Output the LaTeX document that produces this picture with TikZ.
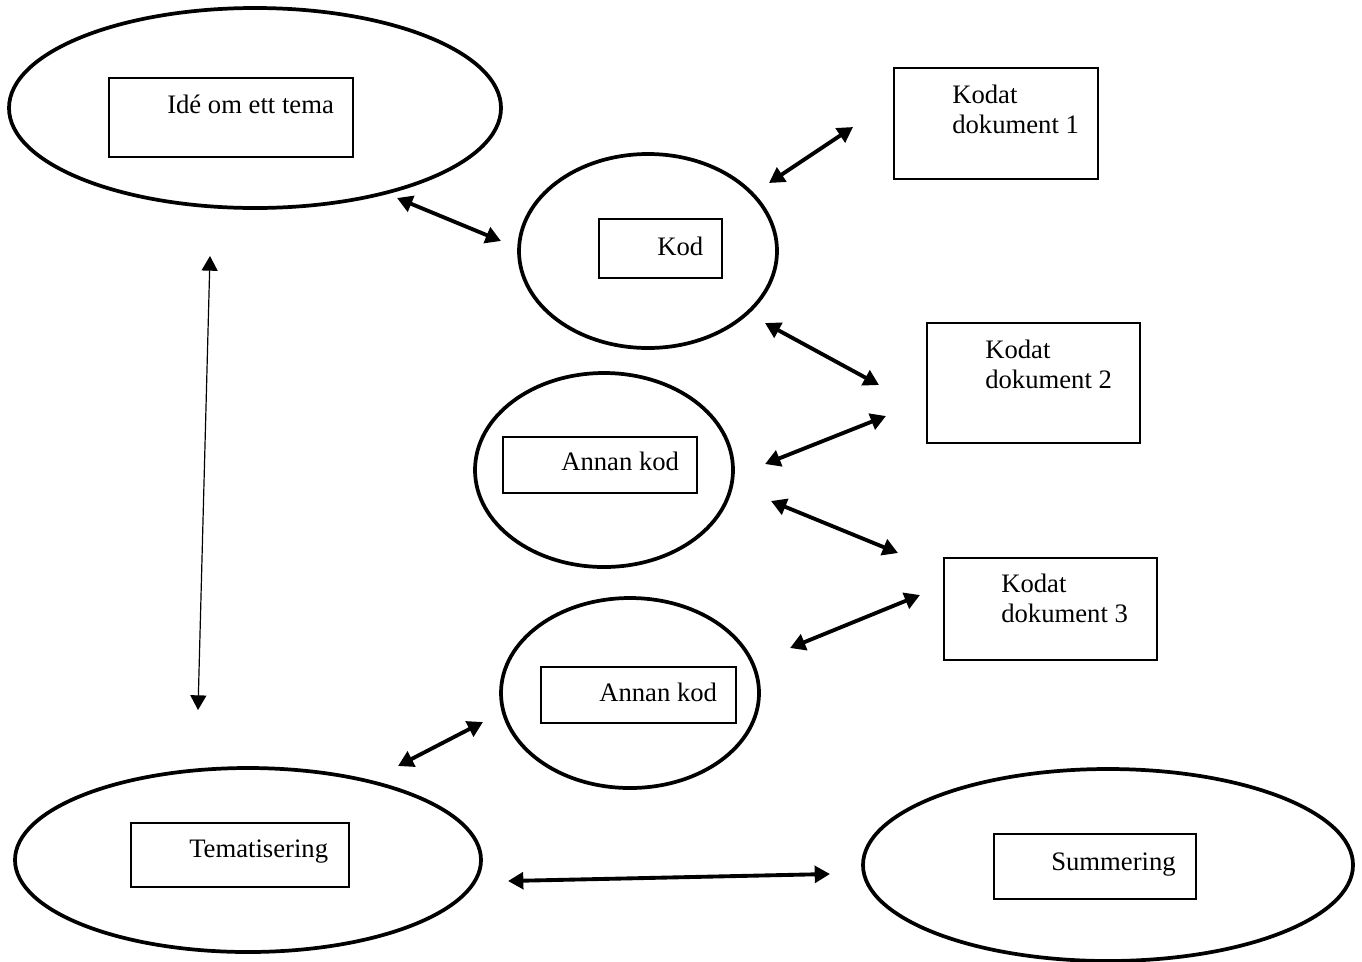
\documentclass[tikz,border=0pt]{standalone}
\usepackage{fontspec}
\setmainfont{Liberation Serif}
\usetikzlibrary{shapes.geometric,arrows.meta}
\begin{document}
\begin{tikzpicture}[x=0.75pt,y=-0.75pt,
  oval/.style={draw,ellipse,line width=2.8pt,inner sep=0pt},
  tbox/.style={draw,rectangle,line width=0.9pt,inner sep=0pt},
  lbl/.style={anchor=base west,inner sep=0pt,font=\fontsize{20pt}{22.5pt}\selectfont,align=left},
  dbl/.style={{Triangle[length=11.5pt,width=12.5pt]}-{Triangle[length=11.5pt,width=12.5pt]},line width=2.9pt},
  thin/.style={{Triangle[length=11pt,width=12pt]}-{Triangle[length=11pt,width=12pt]},line width=0.9pt}]
\useasboundingbox (0,0) rectangle (1362,961);
% ellipses
\node[oval,minimum width=369pt,minimum height=150pt] (eIde) at (255,108) {};
\node[oval,minimum width=193.5pt,minimum height=145.5pt] (eKod) at (648,251) {};
\node[oval,minimum width=193.5pt,minimum height=145.5pt] (eAnnan1) at (604,470) {};
\node[oval,minimum width=193.5pt,minimum height=142.5pt] (eAnnan2) at (630,693) {};
\node[oval,minimum width=349.5pt,minimum height=138pt] (eTem) at (248,860) {};
\node[oval,minimum width=367.5pt,minimum height=144pt] (eSum) at (1108,865) {};
% boxes
\node[tbox,minimum width=183pt,minimum height=59.25pt] (bIde) at (231,117.5) {};
\node[tbox,minimum width=92.25pt,minimum height=44.25pt] (bKod) at (660.5,248.5) {};
\node[tbox,minimum width=153pt,minimum height=83.25pt] (bKD1) at (996,123.5) {};
\node[tbox,minimum width=159.75pt,minimum height=90pt] (bKD2) at (1033.5,383) {};
\node[tbox,minimum width=145.5pt,minimum height=42pt] (bAnnan1) at (600,465) {};
\node[tbox,minimum width=159.75pt,minimum height=76.5pt] (bKD3) at (1050.5,609) {};
\node[tbox,minimum width=146.25pt,minimum height=42pt] (bAnnan2) at (638.5,695) {};
\node[tbox,minimum width=163.5pt,minimum height=48pt] (bTem) at (240,855) {};
\node[tbox,minimum width=151.5pt,minimum height=48.75pt] (bSum) at (1095,866.5) {};
% texts
\node[lbl] (tIde) at (167,113) {Idé om ett tema};
\node[lbl] (tKod) at (657,255) {Kod};
\node[lbl] (tKD1) at (952,133) {Kodat\\dokument 1};
\node[lbl] (tKD2) at (985,388) {Kodat\\dokument 2};
\node[lbl] (tAnnan1) at (561,470) {Annan kod};
\node[lbl] (tKD3) at (1001,622) {Kodat\\dokument 3};
\node[lbl] (tAnnan2) at (599,701) {Annan kod};
\node[lbl] (tTem) at (189,857) {Tematisering};
\node[lbl] (tSum) at (1051,870) {Summering};
% arrow end points
\coordinate (a1s) at (397,198); \coordinate (a1e) at (501,241);
\coordinate (a2s) at (769,183); \coordinate (a2e) at (853,127);
\coordinate (a3s) at (765,323); \coordinate (a3e) at (879,385);
\coordinate (a4s) at (886,416); \coordinate (a4e) at (765,464);
\coordinate (a5s) at (771,501); \coordinate (a5e) at (898,553);
\coordinate (a6s) at (920,595); \coordinate (a6e) at (790,648);
\coordinate (a7s) at (398,766); \coordinate (a7e) at (483,722);
\coordinate (a8s) at (508,881); \coordinate (a8e) at (830,874);
\coordinate (a9s) at (210,256); \coordinate (a9e) at (198,710);
% arrows
\draw[dbl] (a1s) -- (a1e);
\draw[dbl] (a2s) -- (a2e);
\draw[dbl] (a3s) -- (a3e);
\draw[dbl] (a4s) -- (a4e);
\draw[dbl] (a5s) -- (a5e);
\draw[dbl] (a6s) -- (a6e);
\draw[dbl] (a7s) -- (a7e);
\draw[dbl] (a8s) -- (a8e);
\draw[thin] (a9s) -- (a9e);
\end{tikzpicture}
\end{document}
